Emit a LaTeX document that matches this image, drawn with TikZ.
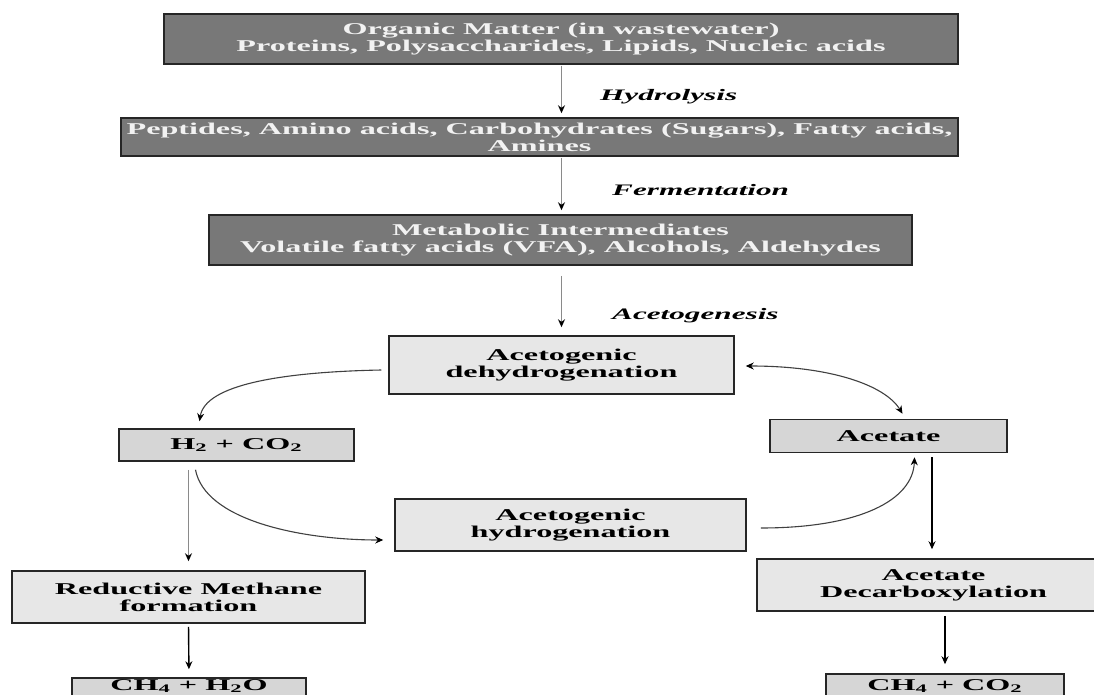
\documentclass[tikz,border=0pt]{standalone}
\usepackage{fontspec}
\setmainfont{Liberation Serif}
\usetikzlibrary{arrows.meta,calc}
\definecolor{darkfill}{HTML}{787878}
\definecolor{lightfill}{HTML}{E7E7E7}
\definecolor{midfill}{HTML}{D6D6D6}
\definecolor{linegray}{HTML}{8A8A8A}
\newcommand{\hs}[1]{\scalebox{1.95}[1]{#1}}
\newcommand{\sbs}[1]{\textsubscript{#1}}
\begin{document}
\begin{tikzpicture}[x=1pt,y=-1pt,
  basebox/.style={draw=black!85, line width=1.5pt, inner sep=0pt, align=center,
    font=\fontsize{16.5}{17}\selectfont\bfseries},
  dbox/.style={basebox, fill=darkfill, text=white!95!black},
  lbox/.style={basebox, fill=lightfill, text=black},
  mbox/.style={basebox, fill=midfill, text=black},
  lab/.style={font=\fontsize{16}{16}\selectfont\bfseries\itshape, anchor=west, inner sep=0pt},
  garr/.style={draw=linegray, line width=1.4pt, -{Stealth[length=8pt,width=7pt,color=black]}},
  barr/.style={draw=black, line width=1.4pt, -{Stealth[length=8pt,width=7pt]}},
  carr/.style={draw=black!75, line width=1.1pt, -{Stealth[length=8pt,width=7pt,color=black]}}
]
\fill[white] (0,0) rectangle (1094,695);
\useasboundingbox (0,0) rectangle (1094,695);
\clip (0,0) rectangle (1094,695);

% top chain
\node[dbox, minimum width=794pt, minimum height=50pt] (b1) at (561,39)
  {\hs{Organic Matter (in wastewater)}\\\hs{Proteins, Polysaccharides, Lipids, Nucleic acids}};
\node[dbox, minimum width=837pt, minimum height=38pt] (b2) at (539.5,137)
  {\hs{Peptides, Amino acids, Carbohydrates (Sugars), Fatty acids,}\\\hs{Amines}};
\node[dbox, minimum width=703pt, minimum height=50pt] (b3) at (560.5,240)
  {\hs{Metabolic Intermediates}\\\hs{Volatile fatty acids (VFA), Alcohols, Aldehydes}};
\node[lbox, minimum width=345pt, minimum height=58pt] (deh) at (561.5,365)
  {\hs{Acetogenic}\\\hs{dehydrogenation}};

% lower boxes
\node[mbox, minimum width=235pt, minimum height=32pt] (h2) at (236.5,445)
  {\hs{H\sbs{2} + CO\sbs{2}}};
\node[mbox, minimum width=237pt, minimum height=33pt] (ace) at (888.5,436)
  {\hs{Acetate}};
\node[lbox, minimum width=351pt, minimum height=52pt] (hyd) at (570.5,525)
  {\hs{Acetogenic}\\\hs{hydrogenation}};
\node[lbox, minimum width=353pt, minimum height=52pt] (red) at (188.5,597)
  {\hs{Reductive Methane}\\\hs{formation}};
\node[lbox, minimum width=353pt, minimum height=52pt] (dec) at (933.5,585)
  {\hs{Acetate}\\\hs{Decarboxylation}};
\node[mbox, minimum width=234pt, minimum height=50pt] (ch4a) at (189,703)
  {\raisebox{13pt}[0pt][0pt]{\hs{CH\sbs{4} + H\sbs{2}O}}};
\node[mbox, minimum width=238pt, minimum height=50pt] (ch4b) at (945,699)
  {\raisebox{9pt}[0pt][0pt]{\hs{CH\sbs{4} + CO\sbs{2}}}};

% labels
\node[lab] (l1) at (600,97) {\hs{Hydrolysis}};
\node[lab] (l2) at (612,190) {\hs{Fermentation}};
\node[lab] (l3) at (612,316) {\hs{Acetogenesis}};

% straight arrows
\draw[garr, shorten <=1pt, shorten >=4pt] (b1.south -| deh.north) -- (b2.north -| deh.north);
\draw[garr, shorten <=1pt, shorten >=4pt] (b2.south -| deh.north) -- (b3.north -| deh.north);
\draw[garr, shorten <=10pt, shorten >=8pt] (b3.south -| deh.north) -- (deh.north);
\draw[garr, shorten <=8pt, shorten >=9pt] (h2.south -| red.north) -- (red.north);
\draw[barr, shorten <=3pt, shorten >=8pt] (red.south) -- (ch4a.north);
\draw[barr, shorten <=4pt, shorten >=9pt] (ace.south -| 932,0) -- (dec.north -| 932,0);
\draw[barr, shorten <=4pt, shorten >=9pt] (dec.south -| ch4b.north) -- (ch4b.north);

% curved arrows
\draw[carr] ([xshift=-7pt,yshift=-5pt]deh.west) .. controls (280,372) and (205,385) .. ([xshift=-37pt,yshift=7pt]h2.north);
\draw[carr, {Stealth[length=8pt,width=7pt,color=black]}-{Stealth[length=8pt,width=7pt,color=black]}]
  ([xshift=11pt,yshift=-1pt]deh.east) .. controls (830,366) and (885,385) .. ([xshift=14pt,yshift=5pt]ace.north);
\draw[carr] ([xshift=-41pt,yshift=-8pt]h2.south) .. controls (205,520) and (300,540) .. ([xshift=-11pt,yshift=-15pt]hyd.west);
\draw[carr] ([xshift=14pt,yshift=-3pt]hyd.east) .. controls (860,528) and (913,500) .. ([xshift=26pt,yshift=-4pt]ace.south);
\end{tikzpicture}
\end{document}
